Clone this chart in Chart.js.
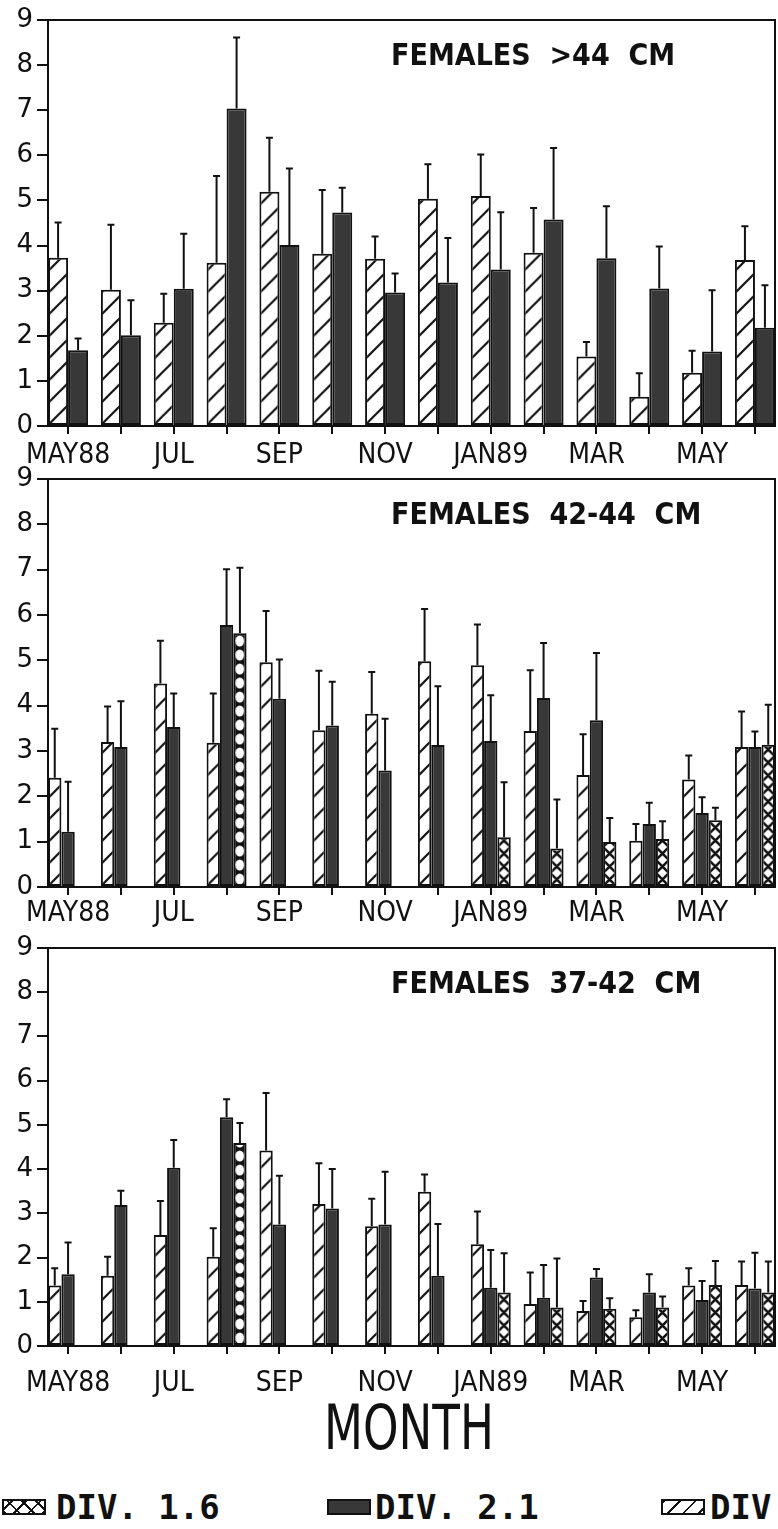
<!DOCTYPE html>
<html>
<head>
<meta charset="utf-8">
<script src="https://cdn.jsdelivr.net/npm/chart.js@4.4.0/dist/chart.umd.min.js"></script>
<style>
  html, body { margin: 0; padding: 0; background: #fff; }
  body { width: 778px; height: 1529px; position: relative; overflow: hidden; }
  canvas.panel { position: absolute; left: 0; }
  #month {
    position: absolute; left: 0; top: 1397px; width: 818px; text-align: center;
    font: 62px/62px 'Liberation Sans Narrow', 'DejaVu Sans Condensed', sans-serif; color: #111;
    transform: scaleX(0.81); transform-origin: 409px 0;
  }
  .lt {
    position: absolute; top: 1490px; white-space: nowrap;
    font: bold 34px/34px 'DejaVu Sans Mono', monospace; color: #111;
  }
  .sw { position: absolute; top: 1499px; width: 44px; height: 16px; border: 2px solid #111; box-sizing: border-box; }
  .sw.cross {
    background:
      repeating-linear-gradient(45deg, #111 0 2px, transparent 2px 10px),
      repeating-linear-gradient(-45deg, #111 0 2px, #fff 2px 10px);
  }
  .sw.solid { background: #383838; }
  .sw.hatch { background: repeating-linear-gradient(135deg, #111 0 2px, #fff 2px 11px); }
</style>
</head>
<body>
<canvas id="p1" class="panel" width="778" height="475" style="top:0px"></canvas>
<canvas id="p2" class="panel" width="778" height="475" style="top:459px"></canvas>
<canvas id="p3" class="panel" width="778" height="475" style="top:928px"></canvas>
<div id="month">MONTH</div>
<span class="sw cross" style="left:2px"></span><span class="lt" style="left:56px">DIV. 1.6</span>
<span class="sw solid" style="left:327px"></span><span class="lt" style="left:375px">DIV. 2.1</span>
<span class="sw hatch" style="left:661px"></span><span class="lt" style="left:710px">DIV</span>

<script>
// months May 1988 .. June 1989, only every other one is labelled
const tickLabels = ['MAY88', '', 'JUL', '', 'SEP', '', 'NOV', '', 'JAN89', '', 'MAR', '', 'MAY', ''];

// Females >44 cm
const big22 = [3.73, 3.02, 2.29, 3.62, 5.19, 3.82, 3.71, 5.04, 5.10, 3.84, 1.54, 0.65, 1.18, 3.68];
const big22Err = [0.78, 1.44, 0.64, 1.92, 1.20, 1.41, 0.49, 0.76, 0.92, 0.99, 0.32, 0.52, 0.49, 0.75];
const big21 = [1.68, 2.01, 3.04, 7.04, 4.01, 4.73, 2.96, 3.18, 3.47, 4.58, 3.72, 3.05, 1.65, 2.18];
const big21Err = [0.26, 0.78, 1.22, 1.57, 1.70, 0.55, 0.42, 0.99, 1.27, 1.58, 1.15, 0.93, 1.36, 0.94];

// Females 42-44 cm
const mid22 = [2.41, 3.20, 4.49, 3.18, 4.96, 3.46, 3.82, 4.98, 4.89, 3.44, 2.47, 1.02, 2.37, 3.09];
const mid22Err = [1.08, 0.78, 0.94, 1.09, 1.13, 1.31, 0.92, 1.15, 0.90, 1.34, 0.90, 0.37, 0.53, 0.78];
const mid21 = [1.22, 3.09, 3.53, 5.78, 4.15, 3.56, 2.57, 3.13, 3.22, 4.17, 3.68, 1.39, 1.63, 3.09];
const mid21Err = [1.10, 1.01, 0.74, 1.23, 0.87, 0.97, 1.14, 1.30, 1.01, 1.21, 1.48, 0.47, 0.35, 0.34];
const mid16 = [null, null, null, 5.60, null, null, null, null, 1.10, 0.85, 0.99, 1.06, 1.47, 3.14];
const mid16Err = [null, null, null, 1.44, null, null, null, null, 1.21, 1.08, 0.53, 0.39, 0.28, 0.88];

// Females 37-42 cm
const small22 = [1.37, 1.59, 2.51, 2.02, 4.42, 3.21, 2.71, 3.49, 2.30, 0.95, 0.79, 0.65, 1.37, 1.38];
const small22Err = [0.39, 0.43, 0.77, 0.64, 1.30, 0.92, 0.62, 0.39, 0.74, 0.71, 0.23, 0.16, 0.39, 0.53];
const small21 = [1.62, 3.19, 4.03, 5.17, 2.75, 3.11, 2.75, 1.59, 1.32, 1.09, 1.55, 1.21, 1.04, 1.30];
const small21Err = [0.72, 0.32, 0.63, 0.41, 1.10, 0.89, 1.19, 1.17, 0.85, 0.74, 0.19, 0.41, 0.43, 0.81];
const small16 = [null, null, null, 4.59, null, null, null, null, 1.21, 0.87, 0.84, 0.87, 1.38, 1.21];
const small16Err = [null, null, null, 0.45, null, null, null, null, 0.89, 1.11, 0.24, 0.25, 0.54, 0.70];

const INK = '#111';
const DARK = '#383838';

// fill patterns, one per bar so each can be lined up with its own bar
function makePattern(kind) {
  const c = document.createElement('canvas');
  const g = c.getContext('2d');
  if (kind === 'hatch') {
    c.width = 22; c.height = 22;
    g.fillStyle = '#fff'; g.fillRect(0, 0, 22, 22);
    g.strokeStyle = INK; g.lineWidth = 2.2;
    g.beginPath();
    g.moveTo(-11, 11); g.lineTo(11, -11);
    g.moveTo(0, 22); g.lineTo(22, 0);
    g.moveTo(11, 33); g.lineTo(33, 11);
    g.stroke();
  } else if (kind === 'cross') {
    c.width = 13; c.height = 13;
    g.fillStyle = '#fff'; g.fillRect(0, 0, 13, 13);
    g.strokeStyle = INK; g.lineWidth = 2.5;
    g.beginPath();
    g.moveTo(0, 0); g.lineTo(13, 13);
    g.moveTo(13, 0); g.lineTo(0, 13);
    g.stroke();
  } else { // ring
    c.width = 13; c.height = 14;
    g.fillStyle = INK; g.fillRect(0, 0, 13, 14);
    g.fillStyle = '#fff';
    g.beginPath(); g.ellipse(6.5, 7, 4.4, 5.6, 0, 0, Math.PI * 2); g.fill();
  }
  return g.createPattern(c, 'repeat');
}

function points(values) {
  return values.map((v, i) => ({ x: i, y: v }));
}

// pin each pattern to the bottom-left corner of its bar
const alignPatterns = {
  id: 'alignPatterns',
  beforeDatasetsDraw(chart) {
    chart.data.datasets.forEach((ds, i) => {
      chart.getDatasetMeta(i).data.forEach(el => {
        const p = el.options && el.options.backgroundColor;
        if (p instanceof CanvasPattern) {
          p.setTransform(new DOMMatrix([1, 0, 0, 1, el.x - el.width / 2, el.base]));
        }
      });
    });
  }
};

// upper standard error whiskers
const errorBars = {
  id: 'errorBars',
  afterDatasetsDraw(chart) {
    const ctx = chart.ctx;
    const y = chart.scales.y;
    ctx.save();
    ctx.strokeStyle = INK;
    ctx.lineWidth = 2;
    chart.data.datasets.forEach((ds, i) => {
      chart.getDatasetMeta(i).data.forEach((el, j) => {
        const v = ds.data[j].y, e = ds.errors[j];
        if (v == null || e == null) return;
        const top = y.getPixelForValue(v + e);
        ctx.beginPath();
        ctx.moveTo(el.x, el.y);
        ctx.lineTo(el.x, top);
        ctx.moveTo(el.x - 3.5, top);
        ctx.lineTo(el.x + 3.5, top);
        ctx.stroke();
      });
    });
    ctx.restore();
  }
};

// box frame and panel caption
const frame = {
  id: 'frame',
  afterDraw(chart, args, opts) {
    const { ctx, chartArea: a } = chart;
    ctx.save();
    ctx.strokeStyle = INK;
    ctx.lineWidth = 2;
    ctx.beginPath();
    ctx.moveTo(a.left, a.top);
    ctx.lineTo(a.right, a.top);
    ctx.lineTo(a.right, a.bottom);
    ctx.stroke();
    ctx.fillStyle = INK;
    ctx.font = 'bold 30px "DejaVu Sans Condensed", "DejaVu Sans", sans-serif';
    ctx.textBaseline = 'alphabetic';
    ctx.textAlign = 'left';
    ctx.fillText(opts.text, a.left + 343, a.top + 45);
    ctx.restore();
  }
};

function dataset(values, errors, kinds) {
  const solid = kinds === 'solid';
  return {
    data: points(values),
    errors: errors,
    backgroundColor: solid ? DARK : values.map((v, i) => makePattern(typeof kinds === 'function' ? kinds(i) : kinds)),
    borderColor: INK,
    borderWidth: 2,
    borderSkipped: false
  };
}

function panel(id, title, datasets, areaBottom, labelPad) {
  return new Chart(document.getElementById(id), {
    type: 'bar',
    data: { datasets: datasets },
    plugins: [alignPatterns, errorBars, frame],
    options: {
      responsive: false,
      animation: false,
      events: [],
      layout: { padding: { top: 20, right: 3, left: 0, bottom: 0 } },
      datasets: { bar: { categoryPercentage: 0.757, barPercentage: 1.0 } },
      plugins: { legend: { display: false }, tooltip: { enabled: false }, frame: { text: title } },
      scales: {
        x: {
          type: 'linear',
          offset: false,
          min: -0.38,
          max: 13.38,
          afterFit(scale) { scale.height = 475 - areaBottom; },
          border: { display: true, color: INK, width: 2 },
          grid: { display: true, offset: false, drawOnChartArea: false, drawTicks: true, tickLength: 8, color: INK, lineWidth: 2 },
          ticks: {
            stepSize: 1,
            includeBounds: false,
            autoSkip: false,
            maxRotation: 0,
            padding: labelPad,
            color: INK,
            font: { family: '"DejaVu Sans Condensed", "DejaVu Sans", sans-serif', size: 28 },
            callback: v => tickLabels[Math.round(v)] ?? ''
          }
        },
        y: {
          min: 0,
          max: 9,
          afterFit(scale) { scale.width = 48; },
          border: { display: true, color: INK, width: 2 },
          grid: { display: true, drawOnChartArea: false, tickLength: 11, color: INK, lineWidth: 2 },
          ticks: {
            stepSize: 1,
            padding: 4,
            color: INK,
            font: { family: '"DejaVu Sans", sans-serif', size: 26 }
          }
        }
      }
    }
  });
}

panel('p1', 'FEMALES  >44  CM', [
  dataset(big22, big22Err, 'hatch'),
  dataset(big21, big21Err, 'solid')
], 426, 5);

panel('p2', 'FEMALES  42-44  CM', [
  dataset(mid22, mid22Err, 'hatch'),
  dataset(mid21, mid21Err, 'solid'),
  dataset(mid16, mid16Err, i => (i === 3 ? 'ring' : 'cross'))
], 428, 2);

panel('p3', 'FEMALES  37-42  CM', [
  dataset(small22, small22Err, 'hatch'),
  dataset(small21, small21Err, 'solid'),
  dataset(small16, small16Err, i => (i === 3 ? 'ring' : 'cross'))
], 418, 13);
</script>
</body>
</html>
